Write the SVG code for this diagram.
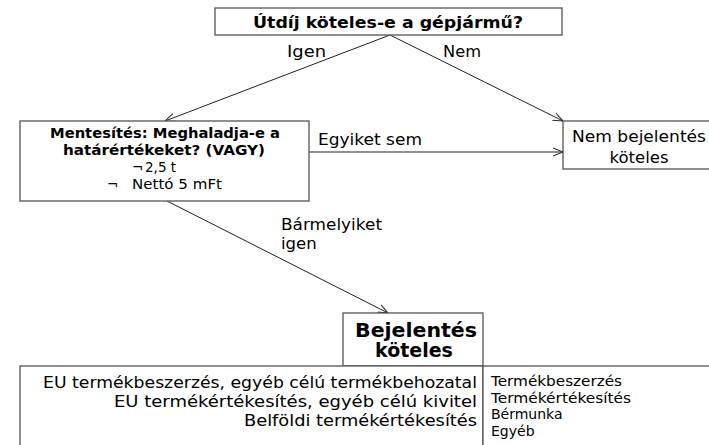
<svg xmlns="http://www.w3.org/2000/svg" width="709" height="445" viewBox="0 0 709 445">
<defs>
<style>
text{font-family:"DejaVu Sans","Verdana",sans-serif;fill:#000}
.box{fill:#fff;stroke:#555;stroke-width:1.3}
.b{font-weight:bold}
.c{text-anchor:middle}
.r{text-anchor:end}
.edge{stroke:#222;stroke-width:1;fill:none}
</style>
<marker id="arr" viewBox="0 0 10 10" refX="10" refY="5" markerWidth="10" markerHeight="10" markerUnits="userSpaceOnUse" orient="auto">
<path d="M0,1 L10,5 L0,9" fill="none" stroke="#222" stroke-width="1"/>
</marker>
</defs>
<rect width="709" height="445" fill="#fff"/>
<g id="connectors">
<line class="edge" x1="390" y1="35" x2="165" y2="121" marker-end="url(#arr)"/>
<line class="edge" x1="390" y1="35" x2="563" y2="121" marker-end="url(#arr)"/>
<line class="edge" x1="309" y1="152" x2="563" y2="152" marker-end="url(#arr)"/>
<line class="edge" x1="167" y1="201" x2="388" y2="313" marker-end="url(#arr)"/>
<text x="287" y="57" font-size="16" textLength="39" lengthAdjust="spacingAndGlyphs">Igen</text>
<text x="443" y="57" font-size="16" textLength="38" lengthAdjust="spacingAndGlyphs">Nem</text>
<text x="318" y="145" font-size="16" textLength="104" lengthAdjust="spacingAndGlyphs">Egyiket sem</text>
<text x="281" y="230" font-size="16.5" textLength="101" lengthAdjust="spacingAndGlyphs">Bármelyiket</text>
<text x="281" y="249" font-size="16.5">igen</text>
</g>
<g id="n-top">
<rect class="box" x="215" y="8" width="347" height="27"/>
<text x="253" y="28" font-size="15" class="b" textLength="270" lengthAdjust="spacingAndGlyphs">Útdíj köteles-e a gépjármű?</text>
</g>
<g id="n-mentes">
<rect class="box" x="20" y="121" width="289" height="80"/>
<text x="50" y="138" font-size="13.5" class="b" textLength="230" lengthAdjust="spacingAndGlyphs">Mentesítés: Meghaladja-e a</text>
<text x="63" y="155" font-size="13.5" class="b" textLength="202" lengthAdjust="spacingAndGlyphs">határértékeket? (VAGY)</text>
<text y="172" font-size="13.5"><tspan x="132">¬</tspan> <tspan x="145">2,5 t</tspan></text>
<text y="189" font-size="13.5"><tspan x="107">¬</tspan> <tspan x="132" textLength="90" lengthAdjust="spacingAndGlyphs">Nettó 5 mFt</tspan></text>
</g>
<g id="n-nem">
<rect class="box" x="563" y="121" width="150" height="48"/>
<text x="572" y="142" font-size="16.5" textLength="134" lengthAdjust="spacingAndGlyphs">Nem bejelentés</text>
<text x="639" y="163" font-size="16.5" class="c">köteles</text>
</g>
<g id="n-bej">
<rect class="box" x="343" y="313" width="140" height="53"/>
<text x="355" y="337" font-size="19" class="b" textLength="122" lengthAdjust="spacingAndGlyphs">Bejelentés</text>
<text x="414" y="357" font-size="19" class="b c">köteles</text>
</g>
<g id="n-list">
<rect class="box" x="20" y="366" width="463" height="85"/>
<text x="43" y="388" font-size="15" textLength="434" lengthAdjust="spacingAndGlyphs">EU termékbeszerzés, egyéb célú termékbehozatal</text>
<text x="114" y="407" font-size="15" textLength="363" lengthAdjust="spacingAndGlyphs">EU termékértékesítés, egyéb célú kivitel</text>
<text x="244" y="426" font-size="15" textLength="233" lengthAdjust="spacingAndGlyphs">Belföldi termékértékesítés</text>
</g>
<g id="n-kinds">
<rect class="box" x="483" y="366" width="240" height="85"/>
<text x="491" y="386" font-size="14" textLength="131" lengthAdjust="spacingAndGlyphs">Termékbeszerzés</text>
<text x="491" y="402.5" font-size="14" textLength="140" lengthAdjust="spacingAndGlyphs">Termékértékesítés</text>
<text x="491" y="419" font-size="14">Bérmunka</text>
<text x="491" y="435.5" font-size="14">Egyéb</text>
</g>
</svg>
